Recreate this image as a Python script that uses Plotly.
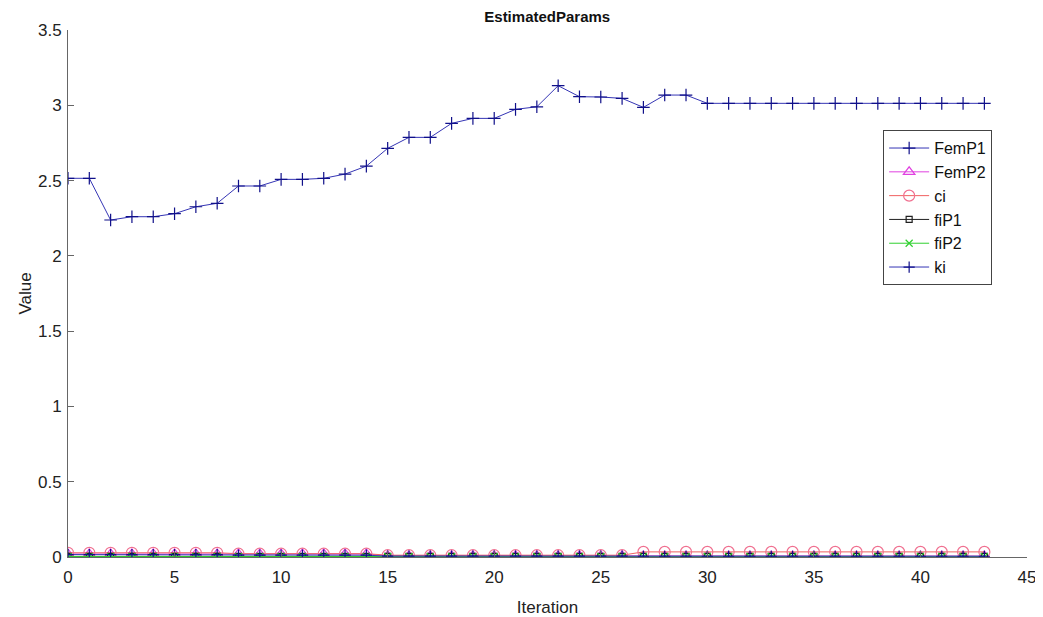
import plotly.graph_objects as go

iterations = list(range(44))

femp1 = [2.515, 2.515, 2.238, 2.26, 2.26, 2.28, 2.326, 2.349, 2.464, 2.464,
         2.508, 2.508, 2.515, 2.543, 2.596, 2.714, 2.787, 2.787, 2.88, 2.913,
         2.913, 2.973, 2.99, 3.13, 3.057, 3.055, 3.046, 2.986, 3.068, 3.068,
         3.013, 3.013, 3.013, 3.013, 3.013, 3.013, 3.013, 3.013, 3.013, 3.013,
         3.013, 3.013, 3.013, 3.013]

femp2 = [0.02] * 15 + [0.008] * 12 + [0.006] * 17
ci = [0.028] * 8 + [0.022] * 7 + [0.012] * 12 + [0.034] * 17
fip1 = [0.004] * 44
fip2 = [0.003] * 44
ki = [0.016] * 8 + [0.012] * 7 + [0.006] * 12 + [0.005] * 17

series = [
    ("FemP1", femp1, "#3535b5", "#10108a", "cross-thin-open", 9),
    ("FemP2", femp2, "#e040e0", "#e040e0", "triangle-up-open", 10),
    ("ci", ci, "#f06060", "#f07090", "circle-open", 11),
    ("fiP1", fip1, "#202020", "#202020", "square-open", 6),
    ("fiP2", fip2, "#30d030", "#30d030", "x-thin-open", 7),
    ("ki", ki, "#3535b5", "#10108a", "cross-thin-open", 8),
]

fig = go.Figure()
for name, vals, lc, mc, sym, sz in series:
    fig.add_trace(go.Scatter(
        x=iterations, y=vals, name=name, mode="lines+markers",
        line=dict(color=lc, width=1),
        marker=dict(symbol=sym, size=sz, color=mc, line=dict(color=mc, width=1.2)),
    ))

font_family = "Liberation Sans, Arial, sans-serif"
axis_font = dict(family=font_family, size=17, color="#222")
fig.update_layout(
    width=1035, height=609,
    margin=dict(l=60, r=16, t=22, b=60, autoexpand=False),
    paper_bgcolor="white", plot_bgcolor="white",
    title=dict(text="<b>EstimatedParams</b>", x=0.521, xanchor="center",
               y=0.994, yanchor="top", yref="container", pad=dict(t=0, b=0),
               automargin=False,
               font=dict(family=font_family, size=15, color="#111")),
    xaxis=dict(range=[0, 45], tickvals=list(range(0, 46, 5)), automargin=False,
               showgrid=False, zeroline=False, showline=True,
               linecolor="#666", linewidth=1, ticks="inside", ticklen=6,
               tickcolor="#666", tickfont=axis_font, ticklabelstandoff=5,
               title=dict(text="Iteration", font=axis_font, standoff=14)),
    yaxis=dict(range=[0, 3.5], tickvals=[0, 0.5, 1, 1.5, 2, 2.5, 3, 3.5],
               ticktext=["0", "0.5", "1", "1.5", "2", "2.5", "3", "3.5"],
               automargin=False,
               showgrid=False, zeroline=False, showline=True,
               linecolor="#666", linewidth=1, ticks="inside", ticklen=6,
               tickcolor="#666", tickfont=axis_font, ticklabelstandoff=2,
               title=dict(text="Value", font=axis_font, standoff=2)),
    legend=dict(x=0.85, y=0.81, xanchor="left", yanchor="top",
                bordercolor="#444", borderwidth=1, bgcolor="white",
                font=dict(family=font_family, size=16, color="#111"),
                tracegroupgap=0, itemwidth=40),
    showlegend=True,
)

fig.write_html("out.html")
